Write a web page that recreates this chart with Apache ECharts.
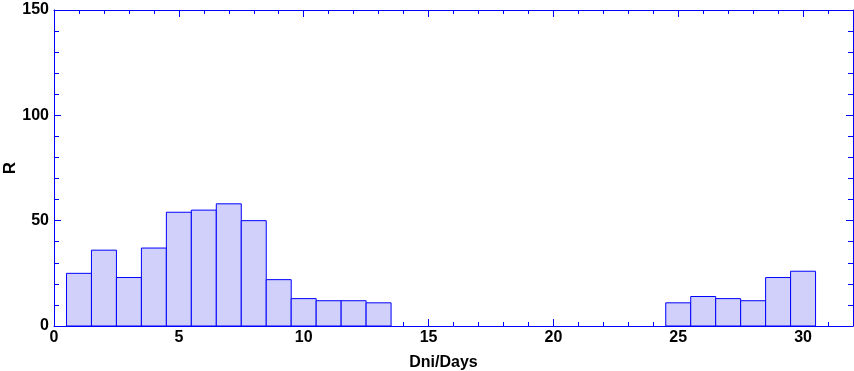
<!DOCTYPE html>
<html>
<head>
<meta charset="utf-8">
<script src="https://cdn.jsdelivr.net/npm/echarts@6/dist/echarts.min.js"></script>
<style>html,body{margin:0;padding:0;background:#fff}#c{width:854px;height:371px}</style>
</head>
<body>
<div id="c"></div>
<script>
var days = [1,2,3,4,5,6,7,8,9,10,11,12,13,14,15,16,17,18,19,20,21,22,23,24,25,26,27,28,29,30];
var values = [25,36,23,37,54,55,58,50,22,13,12,12,11,0,0,0,0,0,0,0,0,0,0,0,11,14,13,12,23,26];
var xTicks = [0,5,10,15,20,25,30];
var yTicks = [0,50,100,150];
var xName = 'Dni/Days';
var yName = 'R';

var blue = '#0000ff';
var font = '"Liberation Sans", Arial, sans-serif';
var data = days.map(function(d,i){return [d, values[i]];});

function xAxisCfg(pos, showLabel) {
  return {
    type: 'value', position: pos, min: 0, max: 32, interval: 5,
    axisLine: {show: true, onZero: false, lineStyle: {color: blue, width: 1}},
    axisTick: {show: true, inside: true, length: 7, lineStyle: {color: blue}},
    minorTick: {show: true, splitNumber: 5, length: 4, lineStyle: {color: blue}},
    splitLine: {show: false},
    axisLabel: {show: showLabel, margin: 4, color: '#000', fontSize: 16, fontWeight: 'bold', fontFamily: font,
      formatter: function(v){ return xTicks.indexOf(v) >= 0 ? String(v) : ''; }},
    name: showLabel ? xName : '', nameLocation: 'middle', nameGap: 29,
    nameTextStyle: {color: '#000', fontSize: 16, fontWeight: 'bold', fontFamily: font, padding: [0, 20, 0, 0]}
  };
}
function yAxisCfg(pos, showLabel) {
  return {
    type: 'value', position: pos, min: 0, max: 150, interval: 50,
    axisLine: {show: true, onZero: false, lineStyle: {color: blue, width: 1}},
    axisTick: {show: true, inside: true, length: 7, lineStyle: {color: blue}},
    minorTick: {show: true, splitNumber: 5, length: 5, lineStyle: {color: blue}},
    splitLine: {show: false},
    axisLabel: {show: showLabel, margin: 5, color: '#000', fontSize: 16, fontWeight: 'bold', fontFamily: font,
      formatter: function(v){ return yTicks.indexOf(v) >= 0 ? String(v) : ''; }}
  };
}

var chart = echarts.init(document.getElementById('c'), null, {renderer: 'canvas'});
chart.setOption({
  animation: false,
  backgroundColor: '#fff',
  grid: {left: 54, right: 1, top: 10, bottom: 45, containLabel: false, outerBoundsMode: 'none'},
  xAxis: [xAxisCfg('bottom', true), xAxisCfg('top', false)],
  yAxis: [yAxisCfg('left', true), yAxisCfg('right', false)],
  graphic: [{
    type: 'text', x: 10, y: 168, rotation: Math.PI / 2,
    style: {text: yName, fill: '#000', align: 'center', verticalAlign: 'middle',
      font: 'bold 17px "Liberation Sans", Arial, sans-serif'}
  }],
  series: [{
    type: 'custom',
    xAxisIndex: 0, yAxisIndex: 0,
    data: data,
    renderItem: function(params, api) {
      var x = api.value(0), y = api.value(1);
      if (!y) return null;
      var p1 = api.coord([x - 0.5, y]);
      var p2 = api.coord([x + 0.5, 0]);
      return {
        type: 'rect',
        shape: {x: p1[0], y: p1[1], width: p2[0] - p1[0], height: p2[1] - p1[1]},
        style: {fill: '#d0d0fa', stroke: blue, lineWidth: 1}
      };
    }
  }]
});
</script>
</body>
</html>
